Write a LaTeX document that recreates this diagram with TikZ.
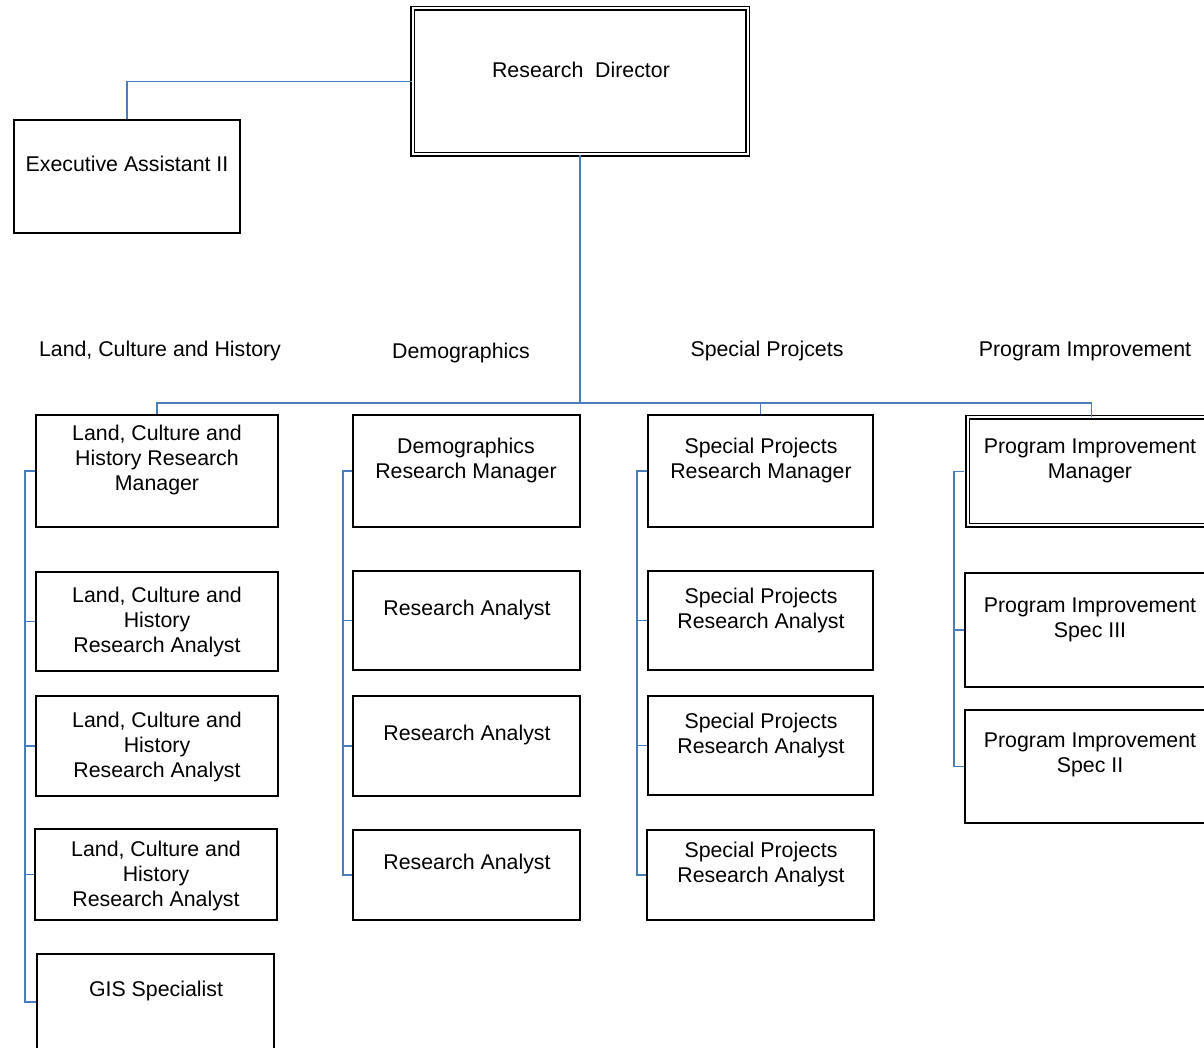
\documentclass[tikz,border=0pt]{standalone}
\usepackage{fontspec}
\setmainfont{Liberation Sans}
\usetikzlibrary{fit}
\definecolor{connblue}{HTML}{4A7EBB}
\tikzset{
  box/.style={draw=black, line width=1.1pt, inner sep=0pt, fill=white},
  dbox/.style={draw=black, double=white, double distance=1.5pt, line width=1.1pt, inner sep=0pt},
  lbl/.style={font=\fontsize{16}{18.75}\selectfont, align=center, inner sep=0pt, anchor=center, yshift=-1.5pt},
  conn/.style={draw=connblue, line width=1.1pt},
}
\begin{document}
\begin{tikzpicture}[x=0.75pt, y=-0.75pt]
\useasboundingbox (0,0) rectangle (1204,1048);
\fill[white] (0,0) rectangle (1204,1048);
\clip (0,0) rectangle (1204,1048);

% boxes
\node[dbox, fit={(412.5,8.5) (747.5,154.5)}] (dir) {};
\node[box, fit={(14,120) (240,233)}] (exec) {};

\node[box, fit={(36,415) (278,527)}] (c1m) {};
\node[box, fit={(36,572) (278,671)}] (c1a) {};
\node[box, fit={(36,696) (278,796)}] (c1b) {};
\node[box, fit={(35,829) (277,920)}] (c1c) {};
\node[box, fit={(37,954) (274,1050)}] (gis) {};

\node[box, fit={(353,415) (580,527)}] (c2m) {};
\node[box, fit={(353,571) (580,670)}] (c2a) {};
\node[box, fit={(353,696) (580,796)}] (c2b) {};
\node[box, fit={(353,830) (580,920)}] (c2c) {};

\node[box, fit={(648,415) (873,527)}] (c3m) {};
\node[box, fit={(648,571) (873,670)}] (c3a) {};
\node[box, fit={(648,696) (873,795)}] (c3b) {};
\node[box, fit={(647,830) (874,920)}] (c3c) {};

\node[dbox, fit={(967.5,417.5) (1215,525.5)}] (c4m) {};
\node[box, fit={(965,573) (1217,687)}] (c4a) {};
\node[box, fit={(965,710) (1217,823)}] (c4b) {};

% texts
\node[lbl] (tdir) at (581,68) {Research\ \ Director};
\node[lbl] (texec) at (127,162) {Executive Assistant II};

\node[lbl] (h1) at (160,349) {Land, Culture and History};
\node[lbl] (h2) at (461,351) {Demographics};
\node[lbl] (h3) at (767,349) {Special Projcets};
\node[lbl] (h4) at (1085,349) {Program Improvement};

\node[lbl] (t1m) at (157,458) {Land, Culture and\\History Research\\Manager};
\node[lbl] (t1a) at (157,620) {Land, Culture and\\History\\Research Analyst};
\node[lbl] (t1b) at (157,745) {Land, Culture and\\History\\Research Analyst};
\node[lbl] (t1c) at (156,874) {Land, Culture and\\History\\Research Analyst};
\node[lbl] (tgis) at (156,989) {GIS Specialist};

\node[lbl] (t2m) at (466,458.5) {Demographics\\Research Manager};
\node[lbl] (t2a) at (467,608) {Research Analyst};
\node[lbl] (t2b) at (467,733) {Research Analyst};
\node[lbl] (t2c) at (467,862) {Research Analyst};

\node[lbl] (t3m) at (761,458.5) {Special Projects\\Research Manager};
\node[lbl] (t3a) at (761,608) {Special Projects\\Research Analyst};
\node[lbl] (t3b) at (761,733) {Special Projects\\Research Analyst};
\node[lbl] (t3c) at (761,862) {Special Projects\\Research Analyst};

\node[lbl] (t4m) at (1090,458.5) {Program Improvement\\Manager};
\node[lbl] (t4a) at (1090,617.5) {Program Improvement\\Spec III};
\node[lbl] (t4b) at (1090,752.5) {Program Improvement\\Spec II};

% connectors
\coordinate (bus) at (580,403);
\draw[conn] (dir.west) -| (exec.north);
\draw[conn] (dir.south) -- (dir.south |- bus);
\draw[conn] (c1m.north) -- (c1m.north |- bus) -- (c4m.north |- bus) -- (c4m.north);
\draw[conn] (c3m.north) -- (c3m.north |- bus);

\coordinate (r1) at (25,0);
\draw[conn] (c1m.west) -- (c1m.west -| r1) -- (gis.west -| r1) -- (gis.west);
\draw[conn] (c1a.west) -- (c1a.west -| r1);
\draw[conn] (c1b.west) -- (c1b.west -| r1);
\draw[conn] (c1c.west) -- (c1c.west -| r1);

\coordinate (r2) at (343,0);
\draw[conn] (c2m.west) -- (c2m.west -| r2) -- (c2c.west -| r2) -- (c2c.west);
\draw[conn] (c2a.west) -- (c2a.west -| r2);
\draw[conn] (c2b.west) -- (c2b.west -| r2);

\coordinate (r3) at (637,0);
\draw[conn] (c3m.west) -- (c3m.west -| r3) -- (c3c.west -| r3) -- (c3c.west);
\draw[conn] (c3a.west) -- (c3a.west -| r3);
\draw[conn] (c3b.west) -- (c3b.west -| r3);

\coordinate (r4) at (954,0);
\draw[conn] ([xshift=-1.9pt]c4m.west) -- (c4m.west -| r4) -- (c4b.west -| r4) -- (c4b.west);
\draw[conn] (c4a.west) -- (c4a.west -| r4);
\end{tikzpicture}
\end{document}
